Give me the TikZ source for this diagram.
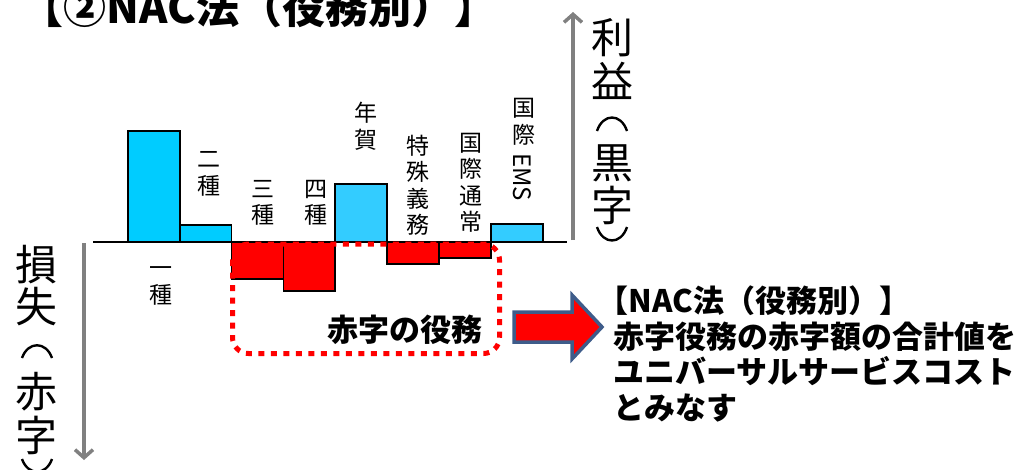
\documentclass[tikz,border=0pt]{standalone}
\usepackage{fontspec}
\setmainfont{Noto Sans CJK JP}
\usetikzlibrary{arrows.meta,positioning}
\definecolor{profit}{RGB}{0,204,255}
\definecolor{profitb}{RGB}{51,204,255}
\definecolor{loss}{RGB}{255,0,0}
\definecolor{axisgray}{RGB}{128,128,128}
\definecolor{arrowedge}{RGB}{62,92,138}

\begin{document}
\begin{tikzpicture}[x=1pt,y=-1pt,
  bar/.style={draw=black, line width=1.8pt},
  lbl/.style={align=center, inner sep=0pt, font=\fontsize{23}{26.5}\selectfont},
  axislbl/.style={inner sep=0pt, font=\fontsize{42}{42}\selectfont},
  arcparen/.style={line width=2.4pt},
  yaxis/.style={draw=axisgray, line width=3.5pt, -{Straight Barb[length=8pt,width=18pt]}},
  dotbox/.style={draw=loss, line width=5pt, dash pattern=on 6pt off 6.5pt, rounded corners=16pt}]

  \useasboundingbox (0,0) rectangle (1029,469);

  \def \base {242}
  \def \xs {127.7}
  \def \w {51.9}

  % bars: index / end / colour
  \foreach \i/\h/\c in {0/130.7/profit, 1/224.7/profit, 2/279.3/loss, 3/290.7/loss,
      4/183.7/profitb, 5/263.7/loss, 6/258.3/loss, 7/223.7/profitb} {
    \draw[bar, fill=\c] ({\xs+\i*\w},\base) rectangle ({\xs+(\i+1)*\w},\h);
  }

  \coordinate (xl) at (93,\base);
  \coordinate (xr) at (567,\base);
  \draw[line width=1.8pt] (xl) -- (xr);

  % deficit group
  \draw[dotbox] (232.5,244) rectangle (499.5,353.5);
  \node[inner sep=0pt, font=\bfseries\fontsize{31}{31}\selectfont] (deflbl) at (405,330) {赤字の役務};

  % service labels
  \node[lbl] (one) at (161,286) {一\\種};
  \node[lbl] (two) at (209,174) {二\\種};
  \node[lbl] (three) at (263,203) {三\\種};
  \node[lbl] (four) at (316,203) {四\\種};
  \node[lbl] (nenga) at (366,126) {年\\賀};
  \node[lbl] (special) at (418,185) {特\\殊\\義\\務};
  \node[lbl] (intl) at (471,183) {国\\際\\通\\常};
  \node[lbl] (ems) at (524,122) {国\\際};
  \node[inner sep=0pt, rotate=-90, font=\fontsize{24}{24}\selectfont] (emsb) at (522,177) {EMS};

  % axes
  \coordinate (gbot) at (573,240);
  \coordinate (gtop) at (573,12);
  \coordinate (ltop) at (84,243);
  \coordinate (lbot) at (84,460);
  \draw[yaxis] (gbot) -- (gtop);
  \draw[yaxis] (ltop) -- (lbot);
  \foreach \ch/\yy [count=\k] in {利/38, 益/81, 黒/163, 字/205}
    \node[axislbl] (gain\k) at (612,\yy) {\ch};
  \foreach \ch/\yy [count=\k] in {損/265, 失/307, 赤/392, 字/435}
    \node[axislbl] (deficit\k) at (37,\yy) {\ch};
  % vertical brackets
  \draw[arcparen] (597,131) .. controls (603,113) and (621,113) .. (627,131);
  \draw[arcparen] (597,227) .. controls (603,245) and (621,245) .. (627,227);
  \draw[arcparen] (22,358) .. controls (28,341) and (46,341) .. (52,358);
  \draw[arcparen] (22,459) .. controls (28,476) and (46,476) .. (52,459);

  % block arrow
  \draw[fill=loss, draw=arrowedge, line width=3.5pt, line join=miter]
    (514,312) -- (572,312) -- (572,295) -- (602,327) -- (572,359) -- (572,342) -- (514,342) -- cycle;

  \node[anchor=north west, align=left, inner sep=0pt, font=\bfseries\fontsize{31}{35.5}\selectfont] (note) at (613,286)
    {\kern-.5em【NAC法（役務別）】\\赤字役務の赤字額の合計値を\\ユニバーサルサービスコスト\\とみなす};

  \node[anchor=base, font=\bfseries\fontsize{43}{43}\selectfont] (title) at (259,23) {【②NAC法（役務別）】};
\end{tikzpicture}
\end{document}
